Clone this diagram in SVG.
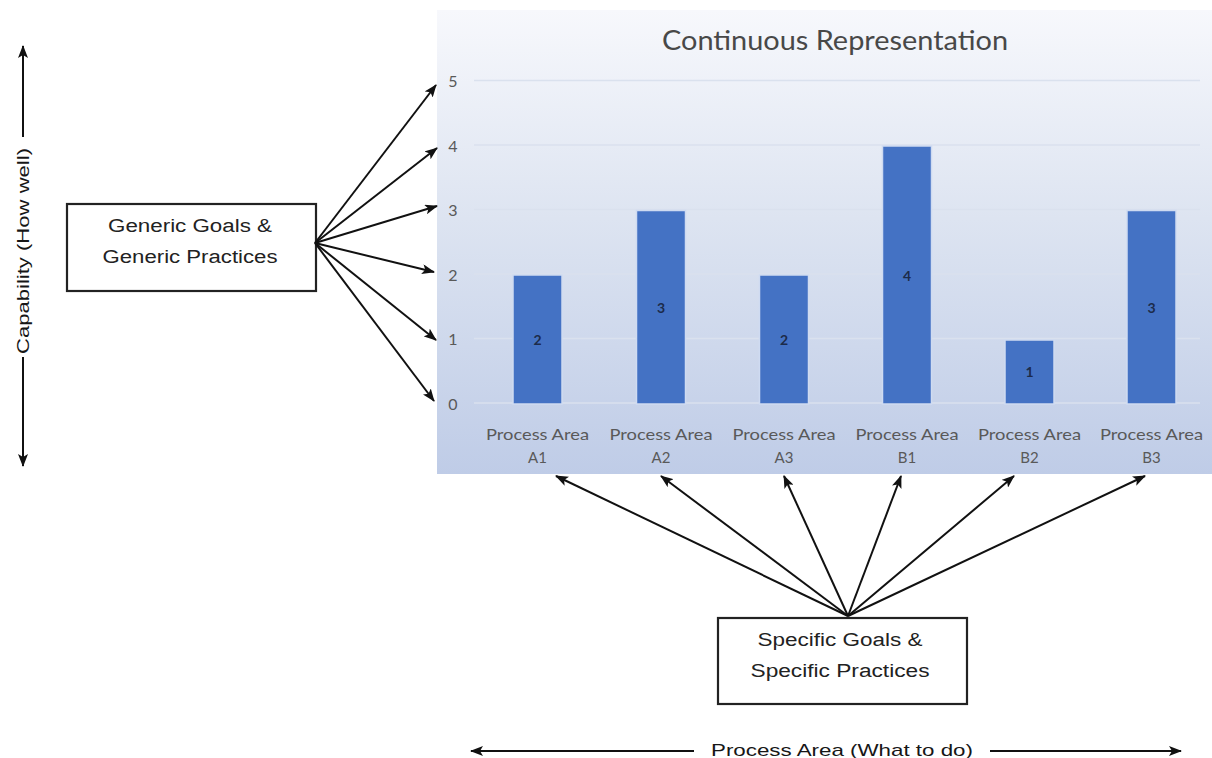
<svg xmlns="http://www.w3.org/2000/svg" width="1212" height="758" viewBox="0 0 1212 758">
  <defs>
    <linearGradient id="chartBg" x1="0" y1="0" x2="0" y2="1">
      <stop offset="0" stop-color="#f7f8fc"/>
      <stop offset="0.45" stop-color="#dde4f1"/>
      <stop offset="1" stop-color="#bfcce7"/>
    </linearGradient>
    <marker id="head" viewBox="0 0 13 10" refX="12" refY="5" markerWidth="13" markerHeight="10" markerUnits="userSpaceOnUse" orient="auto">
      <path d="M0,0 L13,5 L0,10 L3,5 Z" fill="#111"/>
    </marker>
    <style>
      .box { fill: #ffffff; stroke: #222; stroke-width: 2.2; }
      .boxText { font-family: "Liberation Sans", Arial, sans-serif; font-size: 18px; fill: #222; text-anchor: middle; }
      .axisText { font-family: "Liberation Sans", Arial, sans-serif; font-size: 17px; fill: #161616; }
      .conn { stroke: #111; stroke-width: 2; fill: none; marker-end: url(#head); }
      .grid { stroke: #dae1ee; stroke-width: 1.5; }
      .bar { fill: #4472c4; stroke: #cfdbf1; stroke-width: 1.5; }
      .tick { font-family: Lato, "Open Sans", sans-serif; font-size: 16px; fill: #595959; text-anchor: middle; }
      .cat { font-family: Lato, "Open Sans", sans-serif; font-size: 15px; fill: #595959; text-anchor: middle; }
      .val { font-family: Lato, "Open Sans", sans-serif; font-size: 14px; font-weight: bold; fill: #1c2b4a; text-anchor: middle; }
      .title { font-family: Lato, "Open Sans", sans-serif; font-size: 26px; fill: #484848; text-anchor: middle; }
    </style>
  </defs>

  <rect width="1212" height="758" fill="#ffffff"/>

  <!-- column chart -->
  <g id="chart">
    <rect x="437" y="10" width="775" height="464" fill="url(#chartBg)"/>
    <text class="title" x="835" y="50" textLength="346" lengthAdjust="spacingAndGlyphs">Continuous Representation</text>
    <g id="gridlines">
      <line class="grid" x1="474" y1="80.5" x2="1200" y2="80.5"/>
      <line class="grid" x1="474" y1="145" x2="1200" y2="145"/>
      <line class="grid" x1="474" y1="209.5" x2="1200" y2="209.5"/>
      <line class="grid" x1="474" y1="274" x2="1200" y2="274"/>
      <line class="grid" x1="474" y1="338.5" x2="1200" y2="338.5"/>
      <line class="grid" x1="474" y1="403" x2="1200" y2="403"/>
    </g>
    <g id="ticks">
      <text class="tick" x="453" y="87">5</text>
      <text class="tick" x="453" y="152">4</text>
      <text class="tick" x="453" y="216">3</text>
      <text class="tick" x="453" y="281">2</text>
      <text class="tick" x="453" y="345">1</text>
      <text class="tick" x="453" y="410">0</text>
    </g>
    <g id="bars">
      <rect class="bar" x="513" y="275" width="49" height="129"/>
      <rect class="bar" x="636.5" y="210.5" width="49" height="193.5"/>
      <rect class="bar" x="759.5" y="275" width="49" height="129"/>
      <rect class="bar" x="882.5" y="146" width="49" height="258"/>
      <rect class="bar" x="1005" y="340" width="49" height="64"/>
      <rect class="bar" x="1127" y="210.5" width="49" height="193.5"/>
    </g>
    <g id="values">
      <text class="val" x="537.5" y="345">2</text>
      <text class="val" x="661" y="313">3</text>
      <text class="val" x="784" y="345">2</text>
      <text class="val" x="907" y="281">4</text>
      <text class="val" x="1029.5" y="377">1</text>
      <text class="val" x="1151.5" y="313">3</text>
    </g>
    <g id="categories">
      <text class="cat" x="537.5" y="440" textLength="103" lengthAdjust="spacingAndGlyphs">Process Area</text>
      <text class="cat" x="537.5" y="463">A1</text>
      <text class="cat" x="661" y="440" textLength="103" lengthAdjust="spacingAndGlyphs">Process Area</text>
      <text class="cat" x="661" y="463">A2</text>
      <text class="cat" x="784" y="440" textLength="103" lengthAdjust="spacingAndGlyphs">Process Area</text>
      <text class="cat" x="784" y="463">A3</text>
      <text class="cat" x="907" y="440" textLength="103" lengthAdjust="spacingAndGlyphs">Process Area</text>
      <text class="cat" x="907" y="463">B1</text>
      <text class="cat" x="1029.5" y="440" textLength="103" lengthAdjust="spacingAndGlyphs">Process Area</text>
      <text class="cat" x="1029.5" y="463">B2</text>
      <text class="cat" x="1151.5" y="440" textLength="103" lengthAdjust="spacingAndGlyphs">Process Area</text>
      <text class="cat" x="1151.5" y="463">B3</text>
    </g>
  </g>

  <!-- generic goals node -->
  <g id="generic">
    <rect class="box" x="67" y="204" width="249" height="87"/>
    <text class="boxText" x="190" y="232" textLength="164" lengthAdjust="spacingAndGlyphs">Generic Goals &amp;</text>
    <text class="boxText" x="190" y="263" textLength="175" lengthAdjust="spacingAndGlyphs">Generic Practices</text>
  </g>

  <!-- specific goals node -->
  <g id="specific">
    <rect class="box" x="718" y="618" width="249" height="86"/>
    <text class="boxText" x="840" y="646" textLength="165" lengthAdjust="spacingAndGlyphs">Specific Goals &amp;</text>
    <text class="boxText" x="840" y="677" textLength="179" lengthAdjust="spacingAndGlyphs">Specific Practices</text>
  </g>

  <!-- capability axis -->
  <g id="capability-axis">
    <line class="conn" x1="23" y1="137" x2="23" y2="46"/>
    <line class="conn" x1="23" y1="357" x2="23" y2="466"/>
    <text class="axisText" transform="translate(23,251) rotate(-90)" x="0" y="6" text-anchor="middle" textLength="206" lengthAdjust="spacingAndGlyphs">Capability (How  well)</text>
  </g>

  <!-- process area axis -->
  <g id="process-axis">
    <line class="conn" x1="694" y1="751" x2="471" y2="751"/>
    <line class="conn" x1="990" y1="751" x2="1181" y2="751"/>
    <text class="axisText" x="842" y="756" text-anchor="middle" textLength="262" lengthAdjust="spacingAndGlyphs">Process Area (What to do)</text>
  </g>

  <!-- connectors -->
  <g id="connectors">
    <line class="conn" x1="315" y1="243" x2="436" y2="85"/>
    <line class="conn" x1="315" y1="243" x2="437" y2="148"/>
    <line class="conn" x1="315" y1="243" x2="437" y2="206"/>
    <line class="conn" x1="315" y1="243" x2="434" y2="272"/>
    <line class="conn" x1="315" y1="243" x2="436" y2="340"/>
    <line class="conn" x1="315" y1="243" x2="434" y2="401"/>

    <line class="conn" x1="848" y1="616" x2="556" y2="476"/>
    <line class="conn" x1="848" y1="616" x2="661" y2="476"/>
    <line class="conn" x1="848" y1="616" x2="784" y2="476"/>
    <line class="conn" x1="848" y1="616" x2="901" y2="476"/>
    <line class="conn" x1="848" y1="616" x2="1014" y2="476"/>
    <line class="conn" x1="848" y1="616" x2="1145" y2="476"/>
  </g>
</svg>
